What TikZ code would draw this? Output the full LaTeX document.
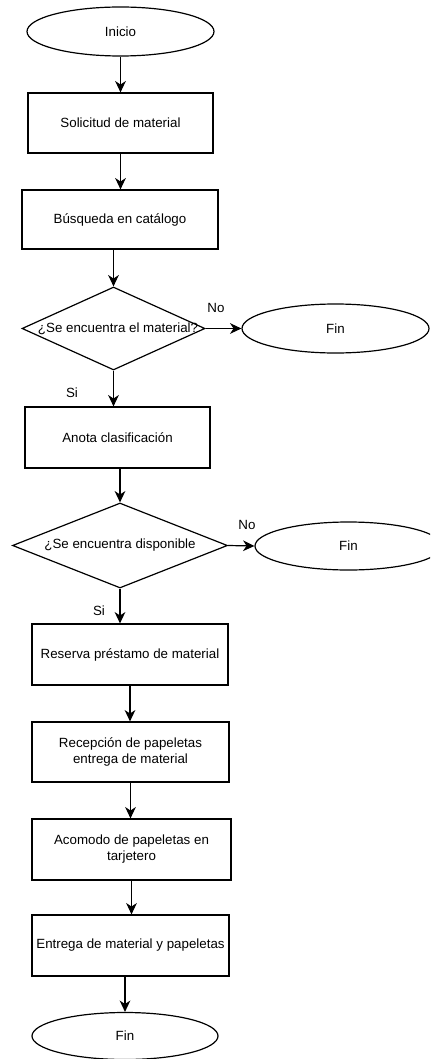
\documentclass[tikz,border=0pt]{standalone}
\usepackage{fontspec}
\setmainfont{Liberation Sans}
\usetikzlibrary{shapes.geometric,arrows.meta}
\begin{document}
\begin{tikzpicture}[x=0.75pt,y=-0.75pt,
  font=\fontsize{10}{12}\selectfont,
  wh/.style 2 args={minimum width=#1*0.75pt, minimum height=#2*0.75pt},
  shapebase/.style={draw, line width=0.9pt, inner sep=0pt, align=center},
  term/.style={shapebase, ellipse},
  proc/.style={shapebase, rectangle},
  decision/.style={shapebase, diamond},
  flow/.style={draw, line width=0.9pt, -{Stealth[length=8.5pt,width=8pt,inset=2.6pt]}},
  lbl/.style={inner sep=0pt}]
\clip (0,0) rectangle (430,1059);

% main column
\node[term, wh={187}{49}] (inicio) at (120.5,31.5) {Inicio};
\node[proc, wh={185}{60}] (sol) at (120.5,123) {Solicitud de material};
\node[proc, wh={196}{59}] (busq) at (120,219.5) {Búsqueda en catálogo};
\node[decision, wh={183}{83}, label={[lbl, xshift=3.4pt]center:¿Se encuentra el material?}] (d1) at (113.5,328.5) {};
\node[term, wh={187}{49}] (fin1) at (335.5,328.5) {Fin};
\node[proc, wh={185}{61}] (anota) at (117.5,437.5) {Anota clasificación};
\node[decision, wh={215}{85}, label={[lbl]center:¿Se encuentra disponible}] (d2) at (120,545.5) {};
\node[term, wh={187}{48}] (fin2) at (348.5,546) {Fin};
\node[proc, wh={196}{61}] (res) at (130,654.5) {Reserva préstamo de material};
\node[proc, wh={197}{60}] (rec) at (130.5,752) {Recepción de papeletas\\entrega de material};
\node[proc, wh={199}{61}] (aco) at (131.5,849.5) {Acomodo de papeletas en\\tarjetero};
\node[proc, wh={197}{61}] (ent) at (130.5,945.5) {Entrega de material y papeletas};
\node[term, wh={186}{47}] (fin3) at (125,1036) {Fin};

% branch labels
\node[lbl] (no1) at (216,308) {No};
\node[lbl] (si1) at (72,393) {Si};
\node[lbl] (no2) at (247,525) {No};
\node[lbl] (si2) at (99,611) {Si};

% connectors
\draw[flow] (inicio.south) -- (sol.north);
\draw[flow] (sol.south) -- (sol.south |- busq.north);
\draw[flow] (busq.south) -- (busq.south -| d1.north) -- (d1.north);
\draw[flow] (d1.east) -- (fin1.west);
\draw[flow] (d1.south) -- (d1.south |- anota.north);
\draw[flow] (d2.north |- anota.south) -- (d2.north);
\draw[flow] (d2.east) -- (fin2.west);
\draw[flow] (d2.south) -- (d2.south |- res.north);
\draw[flow] (res.south) -- (res.south |- rec.north);
\draw[flow] (rec.south) -- (rec.south |- aco.north);
\draw[flow] (aco.south) -- (aco.south |- ent.north);
\draw[flow] (ent.south) -- (ent.south -| fin3.north) -- (fin3.north);
\end{tikzpicture}
\end{document}
